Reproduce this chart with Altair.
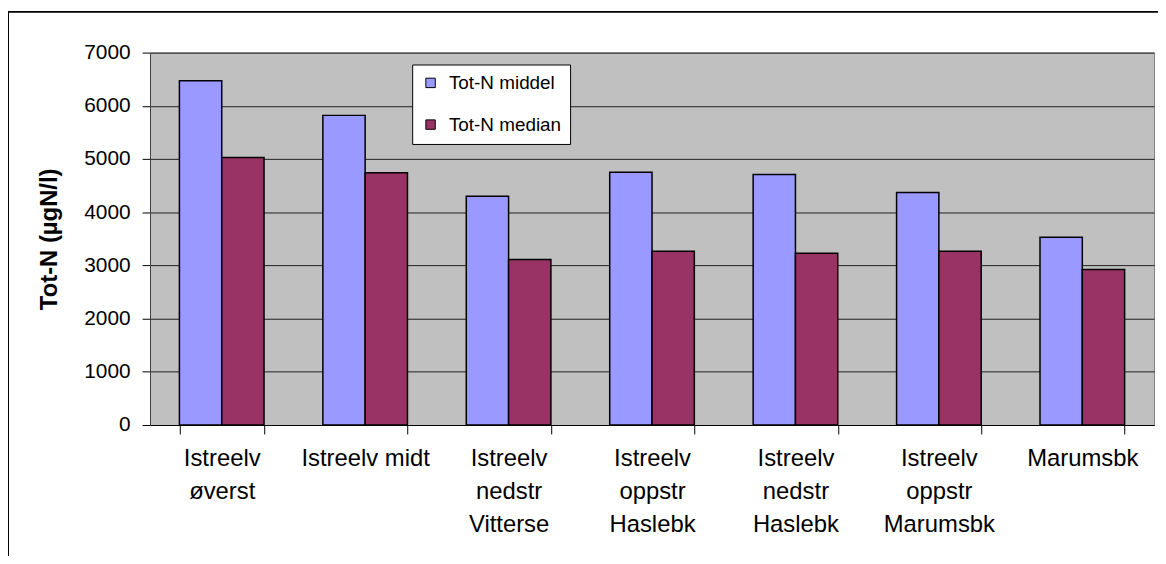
import altair as alt
import pandas as pd

categories = ["Istreelv\nøverst", "Istreelv midt", "Istreelv\nnedstr\nVitterse",
              "Istreelv\noppstr\nHaslebk", "Istreelv\nnedstr\nHaslebk",
              "Istreelv\noppstr\nMarumsbk", "Marumsbk"]
series = ["Tot-N middel", "Tot-N median"]
middel = [6470, 5820, 4300, 4750, 4710, 4370, 3530]
median = [5030, 4740, 3110, 3265, 3230, 3265, 2925]
colors = ["#9999FF", "#993366"]
y_ticks = [0, 1000, 2000, 3000, 4000, 5000, 6000, 7000]

rows = []
for c, a, b in zip(categories, middel, median):
    rows.append({"cat": c, "series": series[0], "value": a})
    rows.append({"cat": c, "series": series[1], "value": b})
df = pd.DataFrame(rows)

FONT = "Liberation Sans"

bars = alt.Chart(df).mark_bar(stroke="black", strokeWidth=1.5).encode(
    x=alt.X("cat:N", sort=categories,
            scale=alt.Scale(paddingInner=0.41, paddingOuter=0.205),
            axis=alt.Axis(title=None, labelAngle=0, tickBand="extent",
                          labelExpr="split(datum.label, '\\n')",
                          labelFontSize=24, labelLineHeight=33, labelPadding=13,
                          tickSize=9, tickColor="black", domainColor="black",
                          labelColor="black", labelLimit=300, labelOverlap=False,
                          labelFont=FONT)),
    xOffset=alt.XOffset("series:N", sort=series,
                        scale=alt.Scale(paddingInner=0, paddingOuter=0)),
    y=alt.Y("value:Q", scale=alt.Scale(domain=[0, 7000], nice=False),
            axis=alt.Axis(values=y_ticks, format="d", title="Tot-N (µgN/l)",
                          titleFontSize=24, titleFontWeight="bold", titleFont=FONT,
                          titleColor="black", titlePadding=22,
                          labelFontSize=21, labelFont=FONT, labelColor="black",
                          labelPadding=12, tickSize=8, tickColor="black",
                          domainColor="#404040", grid=True, gridColor="#202020",
                          gridWidth=1)),
    color=alt.Color("series:N", sort=series,
                    scale=alt.Scale(domain=series, range=colors),
                    legend=alt.Legend(title=None, orient="none", legendX=264, legendY=12,
                                      fillColor="white", strokeColor="black",
                                      padding=9, symbolType="square", symbolSize=90,
                                      symbolStrokeColor="black", symbolStrokeWidth=1,
                                      labelFontSize=19, labelFont=FONT, labelColor="black",
                                      rowPadding=22, labelOffset=9)),
)

border = alt.Chart(pd.DataFrame({"a": [0]})).mark_rect(
    fillOpacity=0, stroke="black", strokeWidth=2, clip=False
).encode(x=alt.value(-143), x2=alt.value(1200), y=alt.value(-41), y2=alt.value(700))

chart = alt.layer(border, bars).properties(
    width=1011, height=375,
    autosize=alt.AutoSizeParams(type="none"),
    padding={"left": 143, "top": 43, "right": 4, "bottom": 130},
    background="white",
).configure_view(fill="#C0C0C0", stroke="#808080", strokeWidth=1)

chart.save("out.html", embed_options={"renderer": "svg", "actions": False})
